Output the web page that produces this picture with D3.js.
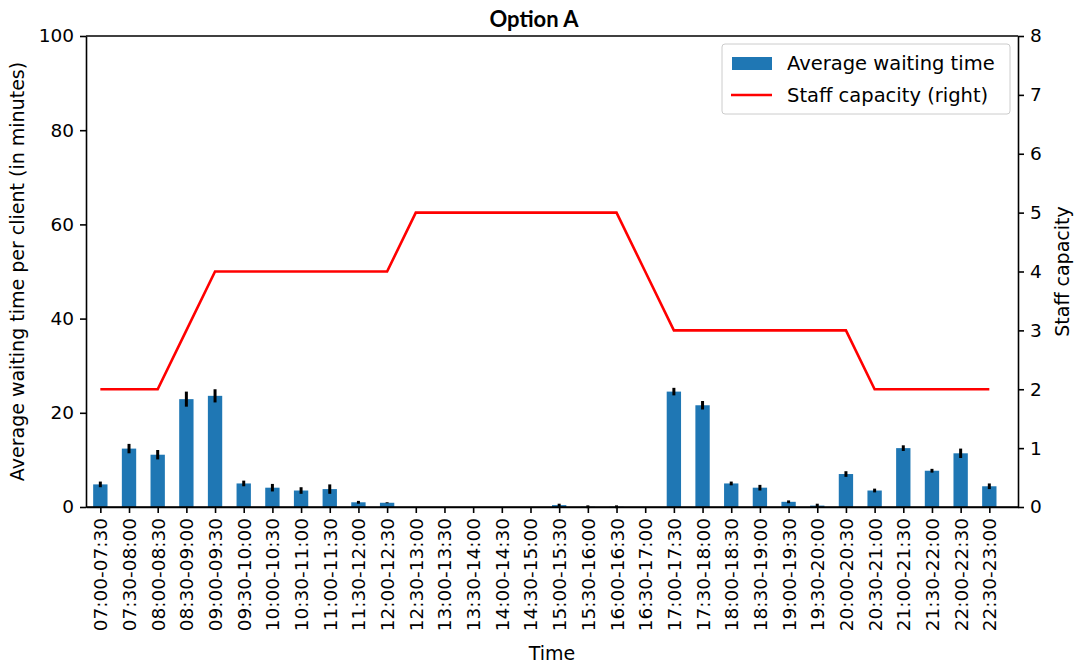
<!DOCTYPE html>
<html><head><meta charset="utf-8">
<script src="https://cdn.jsdelivr.net/npm/d3@7"></script>
<style>body{margin:0;background:#fff}svg{display:block}</style>
</head><body>
<script>
const categories = ["07:00-07:30","07:30-08:00","08:00-08:30","08:30-09:00","09:00-09:30","09:30-10:00","10:00-10:30","10:30-11:00","11:00-11:30","11:30-12:00","12:00-12:30","12:30-13:00","13:00-13:30","13:30-14:00","14:00-14:30","14:30-15:00","15:00-15:30","15:30-16:00","16:00-16:30","16:30-17:00","17:00-17:30","17:30-18:00","18:00-18:30","18:30-19:00","19:00-19:30","19:30-20:00","20:00-20:30","20:30-21:00","21:00-21:30","21:30-22:00","22:00-22:30","22:30-23:00"];
const waitingTime = [4.8,12.4,11.1,22.9,23.6,5.0,4.1,3.5,3.8,1.0,0.9,0,0,0,0,0,0.4,0.05,0.05,0,24.5,21.6,5.0,4.1,1.1,0.3,7.0,3.5,12.5,7.7,11.4,4.4];
const waitingErr = [0.6,1.0,1.0,1.6,1.4,0.6,0.8,0.7,1.0,0.3,0.1,0,0,0,0,0,0.3,0.3,0.3,0,0.8,0.9,0.4,0.6,0.3,0.4,0.6,0.4,0.6,0.4,1.0,0.6];
const staffCapacity = [2,2,2,3,4,4,4,4,4,4,4,5,5,5,5,5,5,5,5,4,3,3,3,3,3,3,3,2,2,2,2,2];
const leftTicks = [0,20,40,60,80,100];
const rightTicks = [0,1,2,3,4,5,6,7,8];

const W = 1074, H = 666;
const m = {left:86, right:1018, top:36, bottom:507};
const FONT = "'DejaVu Sans', sans-serif";
const FS = 18.5;

const svg = d3.select("body").append("svg").attr("width", W).attr("height", H);

const x = d3.scaleLinear().domain([-0.5, 32]).range([m.left, m.right]);
const y = d3.scaleLinear().domain([0, 100]).range([m.bottom, m.top]);
const y2 = d3.scaleLinear().domain([0, 8]).range([m.bottom, m.top]);
const barW = x(0.5) - x(0);

const rows = waitingTime.map((v, i) => ({i, v, e: waitingErr[i]}));

// bars
svg.append("g").selectAll("rect").data(rows).join("rect")
  .attr("x", d => x(d.i) - barW/2)
  .attr("width", barW)
  .attr("y", d => y(d.v))
  .attr("height", d => y(0) - y(d.v))
  .attr("fill", "#1f77b4");

// error bars
svg.append("g").selectAll("line").data(rows.filter(d => d.e > 0)).join("line")
  .attr("x1", d => x(d.i)).attr("x2", d => x(d.i))
  .attr("y1", d => y(d.v - d.e)).attr("y2", d => y(d.v + d.e))
  .attr("stroke", "#000").attr("stroke-width", 3);

// staff line
svg.append("path")
  .datum(staffCapacity)
  .attr("d", d3.line().x((d,i) => x(i)).y(d => y2(d)))
  .attr("fill", "none").attr("stroke", "#ff0000").attr("stroke-width", 2.6);

// axes
const xAxis = d3.axisBottom(x).tickValues(d3.range(categories.length))
  .tickFormat(i => categories[i]).tickSize(6).tickSizeOuter(0);
const gx = svg.append("g").attr("transform", `translate(0,${m.bottom})`).call(xAxis);
gx.selectAll("text")
  .attr("font-family", FONT).attr("font-size", FS).attr("fill", "#000")
  .attr("transform", "rotate(-90)")
  .attr("text-anchor", "end")
  .attr("x", -11).attr("y", 0).attr("dy", "0.35em");

const gy = svg.append("g").attr("transform", `translate(${m.left},0)`)
  .call(d3.axisLeft(y).tickValues(leftTicks).tickSize(6).tickSizeOuter(0).tickPadding(6));
gy.selectAll("text").attr("font-family", FONT).attr("font-size", FS).attr("fill", "#000");

const gy2 = svg.append("g").attr("transform", `translate(${m.right},0)`)
  .call(d3.axisRight(y2).tickValues(rightTicks).tickSize(6).tickSizeOuter(0).tickPadding(6));
gy2.selectAll("text").attr("font-family", FONT).attr("font-size", FS).attr("fill", "#000");

[gx, gy, gy2].forEach(g => {
  g.select(".domain").attr("stroke", "#000").attr("stroke-width", 1.6);
  g.selectAll(".tick line").attr("stroke", "#000").attr("stroke-width", 1.6);
});
// top spine
svg.append("line").attr("x1", m.left).attr("x2", m.right).attr("y1", m.top).attr("y2", m.top)
  .attr("stroke", "#000").attr("stroke-width", 1.6);
// bottom spine full width
svg.append("line").attr("x1", m.left).attr("x2", m.right).attr("y1", m.bottom).attr("y2", m.bottom)
  .attr("stroke", "#000").attr("stroke-width", 1.6);

// axis labels
svg.append("text").attr("x", (m.left + m.right)/2).attr("y", 660)
  .attr("text-anchor", "middle").attr("font-family", FONT).attr("font-size", FS + 0.5).text("Time");
svg.append("text").attr("transform", `translate(24,${(m.top+m.bottom)/2}) rotate(-90)`)
  .attr("text-anchor", "middle").attr("font-family", FONT).attr("font-size", FS + 0.5)
  .text("Average waiting time per client (in minutes)");
svg.append("text").attr("transform", `translate(1069,${(m.top+m.bottom)/2}) rotate(-90)`)
  .attr("text-anchor", "middle").attr("font-family", FONT).attr("font-size", FS + 0.5)
  .text("Staff capacity");

// title
svg.append("text").attr("x", 534).attr("y", 27).attr("text-anchor", "middle")
  .attr("font-family", "Lato, 'Open Sans', sans-serif").attr("font-weight", "bold").attr("font-size", 22)
  .text("Option A");

// legend
const lg = svg.append("g");
lg.append("rect").attr("x", 722).attr("y", 44).attr("width", 288).attr("height", 70)
  .attr("rx", 3).attr("fill", "#fff").attr("fill-opacity", 0.8).attr("stroke", "#ccc").attr("stroke-width", 1);
lg.append("rect").attr("x", 732).attr("y", 57).attr("width", 40).attr("height", 13).attr("fill", "#1f77b4");
lg.append("line").attr("x1", 731).attr("x2", 772).attr("y1", 95).attr("y2", 95)
  .attr("stroke", "#ff0000").attr("stroke-width", 2.6);
lg.append("text").attr("x", 787).attr("y", 70).attr("font-family", FONT).attr("font-size", 19.5).text("Average waiting time");
lg.append("text").attr("x", 787).attr("y", 102).attr("font-family", FONT).attr("font-size", 19.5).text("Staff capacity (right)");
</script>
</body></html>
